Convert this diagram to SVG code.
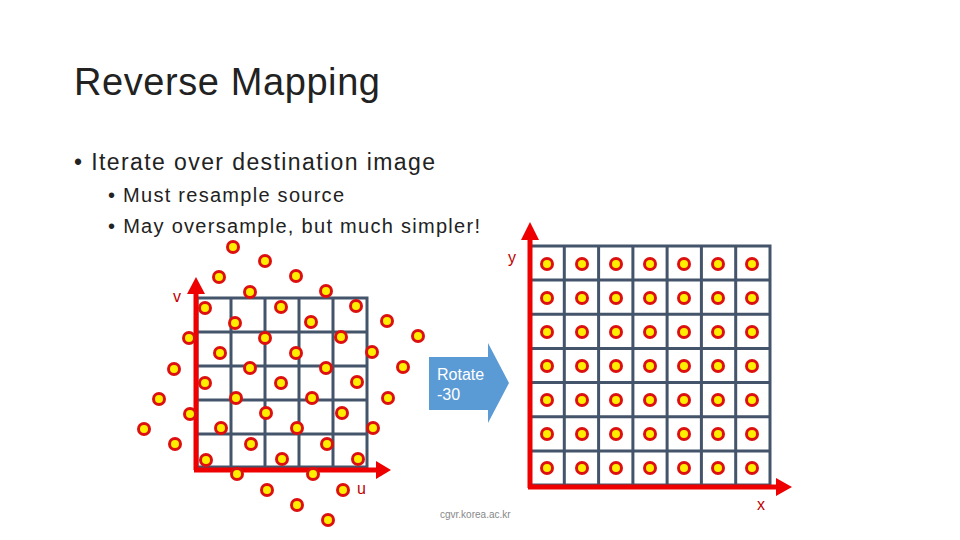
<svg xmlns="http://www.w3.org/2000/svg" width="960" height="540" viewBox="0 0 960 540">
<defs>
<style>
.t{font-family:"Liberation Sans",Arial,sans-serif;fill:#222}
.g{stroke:#44546a;stroke-width:3;fill:none}
.ax{stroke:#ee0000;stroke-width:5;fill:none}
.lb{font-family:"Liberation Sans",Arial,sans-serif;fill:#c00000;font-size:16px}
</style>
<g id="dot"><circle r="7" fill="#dd1010"/><circle r="4" fill="#ffee00"/></g>
</defs>
<rect width="960" height="540" fill="#fff"/>
<text class="t" x="74" y="95" font-size="38" textLength="306">Reverse Mapping</text>
<text class="t" x="74" y="170" font-size="23" textLength="361">• Iterate over destination image</text>
<text class="t" x="108" y="202" font-size="20" textLength="236">• Must resample source</text>
<text class="t" x="108" y="233" font-size="20" textLength="372">• May oversample, but much simpler!</text>
<g id="srcgrid">
<rect class="g" x="197" y="298" width="170" height="169"/>
<path class="g" d="M231 298V467M265 298V467M299 298V467M333 298V467M197 332H367M197 366H367M197 400H367M197 434H367"/>
</g>
<g id="dstgrid">
<rect class="g" x="530" y="246" width="240" height="239"/>
<path class="g" d="M564.3 246V485M598.6 246V485M632.9 246V485M667.1 246V485M701.4 246V485M735.7 246V485M530 280.1H770M530 314.3H770M530 348.4H770M530 382.6H770M530 416.7H770M530 450.9H770"/>
</g>
<g id="connectors">
<path class="ax" d="M196 470V290M194 470H378"/>
<path fill="#ee0000" d="M196 277L187 294H205ZM391 470L376 461V479Z"/>
<path class="ax" d="M530 488V236M528 487H778"/>
<path fill="#ee0000" d="M530 222L521 240H539ZM792 487L776 478V496Z"/>
</g>
<g id="srcdots">
<use href="#dot" x="233" y="247"/><use href="#dot" x="265" y="261"/><use href="#dot" x="219" y="277"/><use href="#dot" x="296" y="276"/><use href="#dot" x="250" y="292"/><use href="#dot" x="326" y="291"/><use href="#dot" x="205" y="308"/><use href="#dot" x="281" y="307"/><use href="#dot" x="356" y="306"/><use href="#dot" x="235" y="323"/><use href="#dot" x="311" y="322"/><use href="#dot" x="387" y="321"/><use href="#dot" x="418" y="336"/><use href="#dot" x="189" y="338"/><use href="#dot" x="265" y="338"/><use href="#dot" x="341" y="337"/><use href="#dot" x="220" y="353"/><use href="#dot" x="296" y="353"/><use href="#dot" x="372" y="352"/><use href="#dot" x="403" y="367"/><use href="#dot" x="174" y="369"/><use href="#dot" x="250" y="368"/><use href="#dot" x="326" y="368"/><use href="#dot" x="205" y="383"/><use href="#dot" x="281" y="383"/><use href="#dot" x="357" y="382"/><use href="#dot" x="388" y="398"/><use href="#dot" x="159" y="399"/><use href="#dot" x="236" y="398"/><use href="#dot" x="312" y="398"/><use href="#dot" x="190" y="414"/><use href="#dot" x="266" y="413"/><use href="#dot" x="342" y="413"/><use href="#dot" x="144" y="429"/><use href="#dot" x="221" y="428"/><use href="#dot" x="297" y="428"/><use href="#dot" x="373" y="428"/><use href="#dot" x="175" y="444"/><use href="#dot" x="251" y="444"/><use href="#dot" x="327" y="444"/><use href="#dot" x="206" y="460"/><use href="#dot" x="282" y="459"/><use href="#dot" x="358" y="459"/><use href="#dot" x="237" y="474"/><use href="#dot" x="313" y="474"/><use href="#dot" x="267" y="490"/><use href="#dot" x="343" y="490"/><use href="#dot" x="297" y="505"/><use href="#dot" x="328" y="520"/>
</g>
<g id="dstdots">
<g id="row"><use href="#dot" x="547" y="264"/><use href="#dot" x="582" y="264"/><use href="#dot" x="616" y="264"/><use href="#dot" x="650" y="264"/><use href="#dot" x="684" y="264"/><use href="#dot" x="718" y="264"/><use href="#dot" x="752" y="264"/></g>
<use href="#row" y="34"/><use href="#row" y="68"/><use href="#row" y="102"/><use href="#row" y="136"/><use href="#row" y="170"/><use href="#row" y="204"/>
</g>
<g id="rotate">
<path d="M429 357H488V343L509 383L488 423V410H429Z" fill="#5b9bd5"/>
<text x="437" y="380" font-family="Liberation Sans,Arial,sans-serif" font-size="16" fill="#fff">Rotate</text>
<text x="437" y="400" font-family="Liberation Sans,Arial,sans-serif" font-size="16" fill="#fff">-30</text>
</g>
<text class="lb" x="173" y="302">v</text>
<text class="lb" x="357" y="494">u</text>
<text class="lb" x="508" y="263">y</text>
<text class="lb" x="757" y="510">x</text>
<text x="440" y="518" font-family="Liberation Sans,Arial,sans-serif" font-size="10" fill="#888">cgvr.korea.ac.kr</text>
</svg>
